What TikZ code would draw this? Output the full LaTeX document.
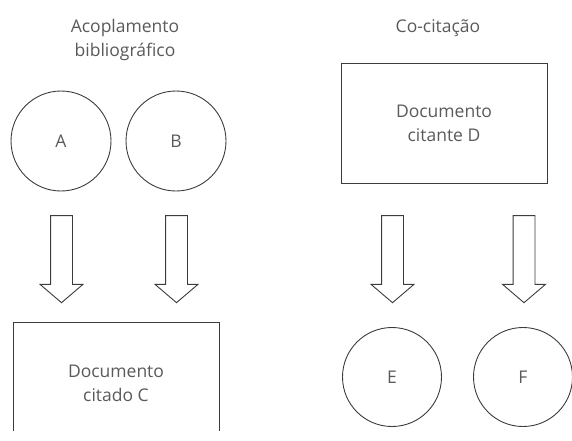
\documentclass[tikz,border=0pt]{standalone}
\usepackage{fontspec}
\setmainfont{Open Sans}
\usepackage{tikz}
\usepackage{xcolor}
\usetikzlibrary{shapes.arrows}
\definecolor{linegray}{HTML}{3C3C3C}
\definecolor{textgray}{HTML}{5A5A5A}

\begin{document}
\begin{tikzpicture}[x=1pt,y=1pt,line width=0.9pt,
  font=\fontsize{17.5}{24}\selectfont,
  title/.style={text=textgray,align=center},
  doc/.style={draw=linegray,text=textgray,align=center,minimum width=206pt,minimum height=120pt},
  paper/.style={circle,draw=linegray,text=textgray,minimum size=100pt,inner sep=0pt},
  bigarrow/.style={single arrow,draw=linegray,shape border rotate=270,minimum height=87pt,
    single arrow head extend=10.5pt,single arrow tip angle=99,inner sep=10.5pt}]
\useasboundingbox (0,0) rectangle (572,-440);
% bibliographic coupling
\node[title] (t1) at (125,-40) {Acoplamento\\bibliográfico};
\node[paper] (A) at (61,-141) {A};
\node[paper] (B) at (176,-141) {B};
\node[bigarrow] (a1) at (61.5,-254.5) {};
\node[bigarrow] (a2) at (176.5,-254.5) {};
\begin{scope}
\clip (0,0) rectangle (572,-430);
\node[doc,minimum height=122pt] (C) at (116,-383) {Documento\\citado C};
\end{scope}
% co-citation
\node[title] (t2) at (438,-28) {Co-citação};
\node[doc] (D) at (444,-123) {Documento\\citante D};
\node[bigarrow] (a3) at (392.5,-254.5) {};
\node[bigarrow] (a4) at (524,-254.5) {};
\node[paper,minimum size=99pt] (E) at (392,-377) {E};
\node[paper,minimum size=99pt] (F) at (523,-377) {F};
\end{tikzpicture}
\end{document}
